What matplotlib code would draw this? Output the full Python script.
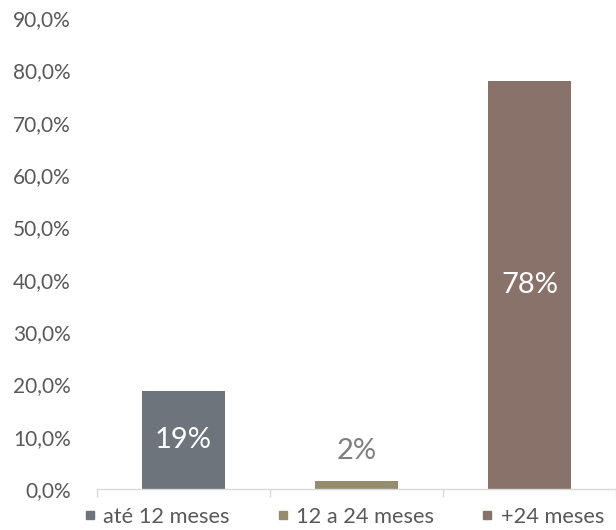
import matplotlib.pyplot as plt
from matplotlib.lines import Line2D
from matplotlib.ticker import FuncFormatter

# data
categories = ["até 12 meses", "12 a 24 meses", "+24 meses"]
values = [0.187, 0.015, 0.780]
colors = ["#6d747b", "#958c6e", "#88726a"]
label_colors = ["white", "#7f7f7f", "white"]
y_ticks = [0.0, 0.1, 0.2, 0.3, 0.4, 0.5, 0.6, 0.7, 0.8, 0.9]

plt.rcParams['font.family'] = ['Lato', 'DejaVu Sans']
text_color = "#595959"

fig = plt.figure(figsize=(6.16, 5.30), dpi=100)
ax = fig.add_axes([97 / 616, 41 / 530, 519 / 616, 471 / 530])

x = list(range(len(categories)))
bars = ax.bar(x, values, width=0.48, color=colors)

# data labels: inside bar centre for tall bars, above for the small one
for xi, v, c in zip(x, values, label_colors):
    label = f"{round(v * 100):.0f}%"
    if v > 0.1:
        ax.text(xi, v / 2, label, ha="center", va="center", color=c, fontsize=21)
    else:
        ax.text(xi, v + 0.033, label, ha="center", va="bottom", color=c, fontsize=21)

ax.set_ylim(0, 0.9)
ax.set_xlim(-0.5, -0.5 + 519 / 174)
ax.set_yticks(y_ticks)
ax.yaxis.set_major_formatter(FuncFormatter(lambda v, p: f"{v * 100:.1f}%".replace(".", ",")))
ax.tick_params(axis="y", length=0, labelsize=15, labelcolor=text_color, pad=19)

# category separators on the x axis
ax.set_xticks([-0.5, 0.5, 1.5, 2.5])
ax.set_xticklabels([])
ax.tick_params(axis="x", length=6, width=1, color="#d9d9d9", direction="out")

for side in ["top", "right", "left"]:
    ax.spines[side].set_visible(False)
ax.spines["bottom"].set_color("#d9d9d9")
ax.spines["bottom"].set_linewidth(1)

handles = [Line2D([0], [0], marker="s", linestyle="none", markersize=6,
                  markerfacecolor=c, markeredgecolor=c) for c in colors]
fig.legend(handles, categories, loc="center", bbox_to_anchor=(342 / 616, 13 / 530), ncol=3,
           frameon=False, fontsize=15.7, labelcolor=text_color, handletextpad=0.15,
           columnspacing=2.0, handlelength=0.9, borderaxespad=0, borderpad=0)

fig.savefig("out.png", dpi=100)
